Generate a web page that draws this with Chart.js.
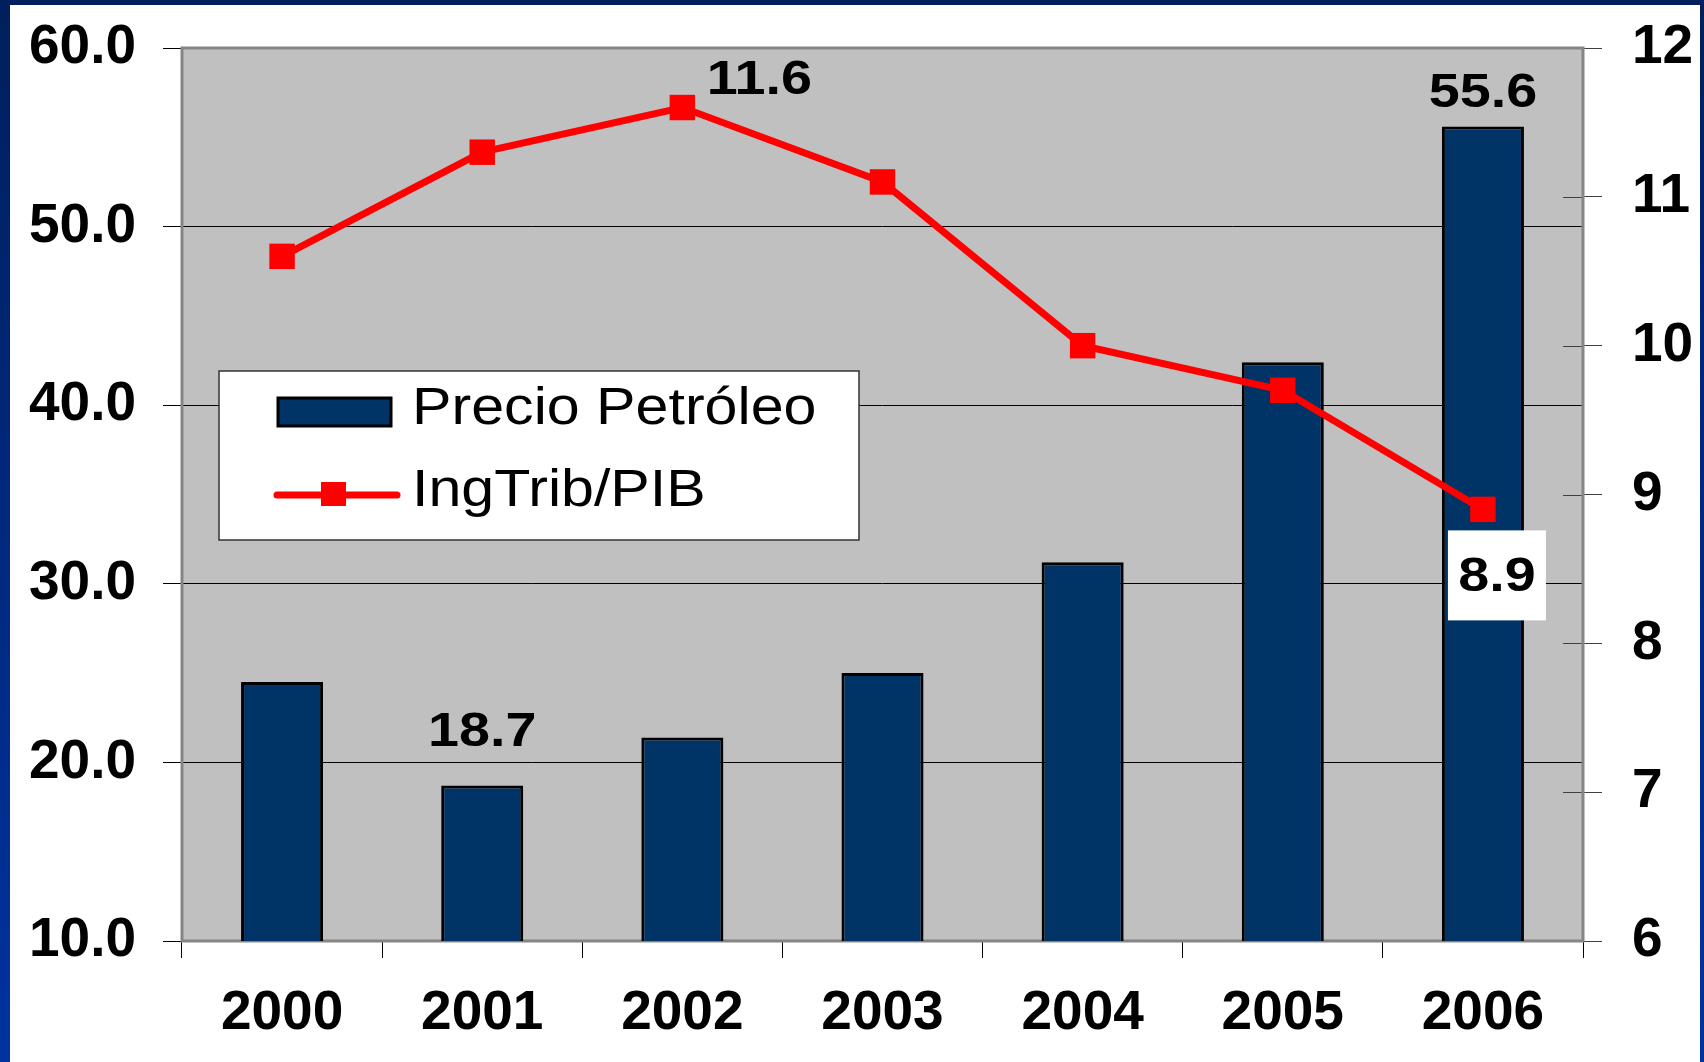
<!DOCTYPE html>
<html>
<head>
<meta charset="utf-8">
<script src="https://cdn.jsdelivr.net/npm/chart.js@4.4.1/dist/chart.umd.min.js"></script>
<style>
  body { margin: 0; width: 1704px; height: 1062px; overflow: hidden;
         background: linear-gradient(#001f5c, #0033a0); }
  #wrap { position: absolute; left: 10px; top: 5px; width: 1690px; height: 1057px; background: #fff; }
</style>
</head>
<body>
<div id="wrap"><canvas id="mycanvas"></canvas></div>
<script>
// data
var years = ['2000', '2001', '2002', '2003', '2004', '2005', '2006'];
var precioPetroleo = [24.5, 18.7, 21.4, 25.0, 31.2, 42.4, 55.6];
var ingTribPib = [10.6, 11.3, 11.6, 11.1, 10.0, 9.7, 8.9];
var leftTicks = [10, 20, 30, 40, 50, 60];
var rightTicks = [6, 7, 8, 9, 10, 11, 12];

var BAR_BLUE = '#003366';
var RED = '#ff0000';
var FONT = 'Liberation Sans, Arial, sans-serif';
var STRETCH = 1.16; // the original text is a bit wide

// grey plot background, frame, inner ticks of right axis
var plotArea = {
	id: 'plotArea',
	beforeDraw: function(chart) {
		var a = chart.chartArea, ctx = chart.ctx;
		ctx.save();
		ctx.fillStyle = '#c0c0c0';
		ctx.fillRect(a.left, a.top, a.right - a.left, a.bottom - a.top);
		ctx.restore();
	},
	beforeDatasetsDraw: function(chart) {
		var a = chart.chartArea, ctx = chart.ctx;
		var y1 = chart.scales.y1;
		ctx.save();
		ctx.strokeStyle = '#404040';
		ctx.lineWidth = 1;
		rightTicks.forEach(function(v) {
			var y = Math.round(y1.getPixelForValue(v)) + 0.5;
			ctx.beginPath();
			ctx.moveTo(a.right - 20, y);
			ctx.lineTo(a.right, y);
			ctx.stroke();
		});
		ctx.strokeStyle = '#858585';
		ctx.lineWidth = 3;
		ctx.strokeRect(a.left, a.top, a.right - a.left, a.bottom - a.top);
		ctx.restore();
	}
};

function wideText(ctx, text, x, y, align) {
	ctx.save();
	ctx.translate(x, y);
	ctx.scale(STRETCH, 1);
	ctx.textAlign = align;
	ctx.fillText(text, 0, 0);
	ctx.restore();
}

// the few value labels shown in the picture
var valueLabels = {
	id: 'valueLabels',
	afterDatasetsDraw: function(chart, args, opts) {
		var ctx = chart.ctx;
		ctx.save();
		ctx.font = 'bold 48px ' + FONT;
		ctx.textBaseline = 'middle';
		opts.items.forEach(function(it) {
			var el = chart.getDatasetMeta(it.dataset).data[it.index];
			var val = chart.data.datasets[it.dataset].data[it.index];
			var x = el.x + it.dx, y = el.y + it.dy;
			if (it.box) {
				ctx.fillStyle = '#fff';
				ctx.fillRect(x - it.box[0] / 2, y - it.box[1] / 2, it.box[0], it.box[1]);
			}
			ctx.fillStyle = '#000';
			wideText(ctx, val.toFixed(1), x, y + 2, 'center');
		});
		ctx.restore();
	}
};

// legend box sitting inside the plot
var boxLegend = {
	id: 'boxLegend',
	afterDraw: function(chart, args, o) {
		var ctx = chart.ctx;
		var ds = chart.data.datasets;
		ctx.save();
		ctx.fillStyle = '#fff';
		ctx.fillRect(o.x, o.y, o.w, o.h);
		ctx.strokeStyle = '#333';
		ctx.lineWidth = 1.5;
		ctx.strokeRect(o.x, o.y, o.w, o.h);

		// bar swatch
		ctx.fillStyle = BAR_BLUE;
		ctx.fillRect(o.x + 59, o.y + 27, 113, 28);
		ctx.strokeStyle = '#000';
		ctx.lineWidth = 3;
		ctx.strokeRect(o.x + 59, o.y + 27, 113, 28);

		// line swatch
		ctx.strokeStyle = RED;
		ctx.lineWidth = 7;
		ctx.lineCap = 'round';
		ctx.beginPath();
		ctx.moveTo(o.x + 58, o.y + 124);
		ctx.lineTo(o.x + 178, o.y + 124);
		ctx.stroke();
		ctx.fillStyle = RED;
		ctx.fillRect(o.x + 102, o.y + 111, 25, 24);

		ctx.fillStyle = '#000';
		ctx.font = '51px ' + FONT;
		ctx.textBaseline = 'middle';
		wideText(ctx, ds[0].label, o.x + 193, o.y + 39, 'left');
		wideText(ctx, ds[1].label, o.x + 193, o.y + 121, 'left');
		ctx.restore();
	}
};

function noPad(s) {
	s.paddingTop = 0;
	s.paddingBottom = 0;
	s.paddingLeft = 0;
	s.paddingRight = 0;
}

var ctx = document.getElementById('mycanvas');

new Chart(ctx, {
	type: 'bar',
	data: {
		labels: years,
		datasets: [
			{
				type: 'bar',
				label: 'Precio Petróleo',
				data: precioPetroleo,
				backgroundColor: BAR_BLUE,
				borderColor: '#000',
				borderWidth: 3,
				borderSkipped: 'start',
				barPercentage: 0.41,
				categoryPercentage: 1,
				yAxisID: 'y',
				order: 1
			},
			{
				type: 'line',
				label: 'IngTrib/PIB',
				data: ingTribPib,
				borderColor: RED,
				borderWidth: 7,
				backgroundColor: RED,
				pointStyle: 'rect',
				pointRadius: 18,
				pointBorderWidth: 0,
				tension: 0,
				yAxisID: 'y1',
				order: 0
			}
		]
	},
	options: {
		responsive: true,
		maintainAspectRatio: false,
		animation: false,
		layout: { padding: { top: 43, left: 0, right: 0, bottom: 0 } },
		plugins: {
			legend: { display: false },
			tooltip: { enabled: false },
			valueLabels: {
				items: [
					{ dataset: 0, index: 1, dx: 0, dy: -55 },
					{ dataset: 0, index: 6, dx: 0, dy: -35 },
					{ dataset: 1, index: 2, dx: 77, dy: -29 },
					{ dataset: 1, index: 6, dx: 14, dy: 66, box: [98, 90] }
				]
			},
			boxLegend: { x: 209, y: 366, w: 640, h: 169 }
		},
		scales: {
			x: {
				grid: { display: true, drawOnChartArea: false, offset: true, color: '#000', tickLength: 17 },
				border: { display: false },
				ticks: { color: '#000', font: { family: FONT, size: 55, weight: 'bold' }, padding: 23, maxRotation: 0 },
				afterFit: function(s) { s.height = 121; noPad(s); }
			},
			y: {
				position: 'left',
				min: 10,
				max: 60,
				afterBuildTicks: function(s) { s.ticks = leftTicks.map(function(v) { return { value: v }; }); },
				grid: { color: '#000', lineWidth: 1, tickLength: 19 },
				border: { display: false },
				ticks: {
					color: '#000', padding: 27,
					font: { family: FONT, size: 55, weight: 'bold' },
					callback: function(v) { return v.toFixed(1); }
				},
				afterFit: function(s) { s.width = 172; noPad(s); }
			},
			y1: {
				position: 'right',
				min: 6,
				max: 12,
				afterBuildTicks: function(s) { s.ticks = rightTicks.map(function(v) { return { value: v }; }); },
				grid: { drawOnChartArea: false, color: '#404040', tickLength: 19 },
				border: { display: false },
				ticks: {
					color: '#000', padding: 30,
					font: { family: FONT, size: 55, weight: 'bold' }
				},
				afterFit: function(s) { s.width = 117; noPad(s); }
			}
		}
	},
	plugins: [plotArea, valueLabels, boxLegend]
});
</script>
</body>
</html>
